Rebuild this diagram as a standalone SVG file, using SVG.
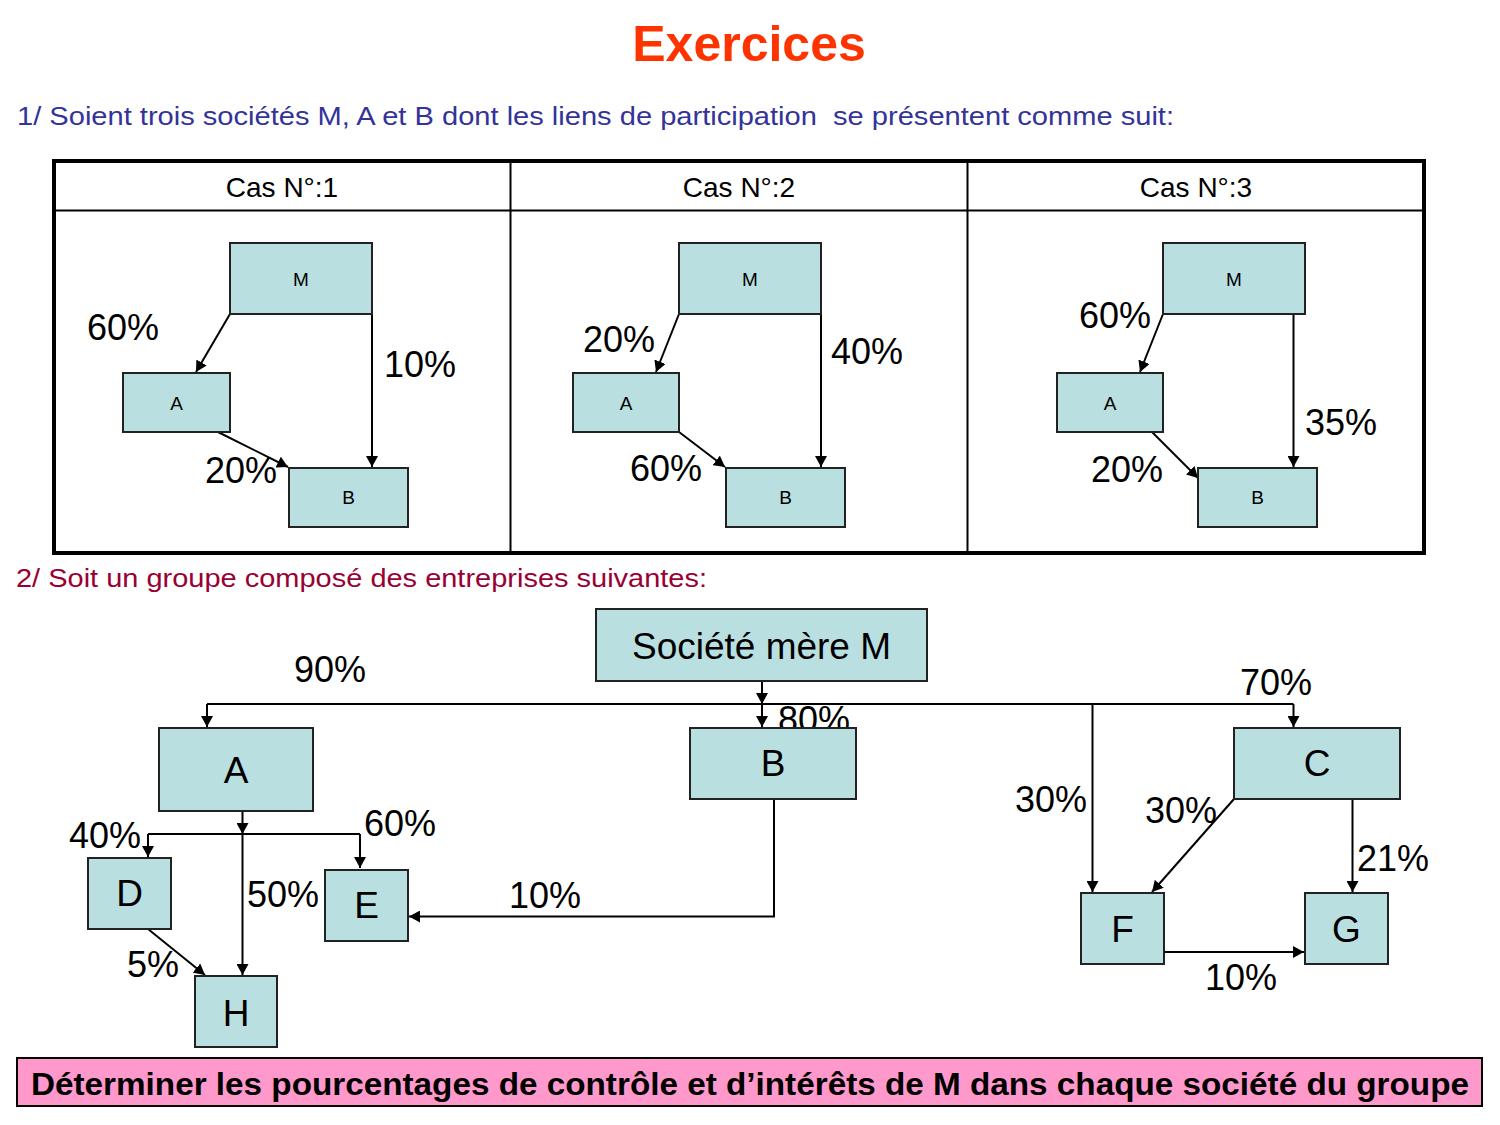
<svg xmlns="http://www.w3.org/2000/svg" width="1500" height="1125" viewBox="0 0 1500 1125">
<defs>
<marker id="arr" markerUnits="userSpaceOnUse" markerWidth="12" markerHeight="12" refX="11" refY="6" orient="auto">
<path d="M0,0 L11,6 L0,12 z" fill="#000"/>
</marker>
<style>
.node rect{fill:#B9DFE1;stroke:#222;stroke-width:2}
.t{font-family:"Liberation Sans",Arial,sans-serif;fill:#000}
.sm{font-size:19px;text-anchor:middle}
.bg{font-size:37px;text-anchor:middle}
.pc{font-size:36px}
.hd{font-size:28px;text-anchor:middle}
.conn line,.conn polyline{stroke:#000;stroke-width:2;fill:none}
.a{marker-end:url(#arr)}
</style>
</defs>
<rect width="1500" height="1125" fill="#fff"/>
<text class="t" x="749" y="61" font-size="50" font-weight="bold" text-anchor="middle" fill="#FF3300" style="fill:#FF3300">Exercices</text>
<text class="t" x="17" y="125" font-size="26" style="fill:#333399" textLength="1157" lengthAdjust="spacingAndGlyphs" xml:space="preserve">1/ Soient trois sociétés M, A et B dont les liens de participation  se présentent comme suit:</text>
<g id="table">
<rect x="54" y="161" width="1370" height="392" fill="none" stroke="#000" stroke-width="4"/>
<line x1="54" y1="210.5" x2="1424" y2="210.5" stroke="#000" stroke-width="2"/>
<line x1="510.5" y1="161" x2="510.5" y2="553" stroke="#000" stroke-width="2"/>
<line x1="967.5" y1="161" x2="967.5" y2="553" stroke="#000" stroke-width="2"/>
<text class="t hd" x="282" y="197">Cas N°:1</text>
<text class="t hd" x="739" y="197">Cas N°:2</text>
<text class="t hd" x="1196" y="197">Cas N°:3</text>
</g>
<g id="connectors" class="conn">
<line class="a" x1="230" y1="314" x2="196" y2="372"/>
<line class="a" x1="372" y1="314" x2="372" y2="467"/>
<line class="a" x1="218" y1="432" x2="288" y2="467"/>
<line class="a" x1="679" y1="314" x2="656" y2="372"/>
<line class="a" x1="821" y1="314" x2="821" y2="467"/>
<line class="a" x1="679" y1="432" x2="725" y2="467"/>
<line class="a" x1="1163" y1="314" x2="1140" y2="372"/>
<line class="a" x1="1293.5" y1="314" x2="1293.5" y2="467"/>
<line class="a" x1="1152" y1="432" x2="1198" y2="478"/>
<line class="a" x1="762" y1="681" x2="762" y2="704"/>
<line x1="207" y1="704" x2="1293.5" y2="704"/>
<line class="a" x1="207" y1="704" x2="207" y2="727"/>
<line class="a" x1="762" y1="704" x2="762" y2="727"/>
<line class="a" x1="1293.5" y1="704" x2="1293.5" y2="727"/>
<line class="a" x1="1092.5" y1="704" x2="1092.5" y2="892"/>
<polyline class="a" points="774,799 774,916.5 409,916.5"/>
<line class="a" x1="242.5" y1="811" x2="242.5" y2="834"/>
<line x1="148" y1="834" x2="360" y2="834"/>
<line class="a" x1="148" y1="834" x2="148" y2="857"/>
<line class="a" x1="360" y1="834" x2="360" y2="868"/>
<line class="a" x1="242.5" y1="834" x2="242.5" y2="975"/>
<line class="a" x1="148" y1="929" x2="205" y2="975"/>
<line class="a" x1="1234" y1="799" x2="1152" y2="892"/>
<line class="a" x1="1352.5" y1="799" x2="1352.5" y2="892"/>
<line class="a" x1="1164" y1="952" x2="1304" y2="952"/>
</g>
<g id="labels">
<text class="t pc" x="87" y="340">60%</text>
<text class="t pc" x="384" y="377">10%</text>
<text class="t pc" x="205" y="483">20%</text>
<text class="t pc" x="583" y="352">20%</text>
<text class="t pc" x="831" y="364">40%</text>
<text class="t pc" x="630" y="481">60%</text>
<text class="t pc" x="1079" y="328">60%</text>
<text class="t pc" x="1305" y="435">35%</text>
<text class="t pc" x="1091" y="482">20%</text>
<text class="t pc" x="294" y="682">90%</text>
<text class="t pc" x="778" y="732">80%</text>
<text class="t pc" x="1240" y="695">70%</text>
<text class="t pc" x="1015" y="812">30%</text>
<text class="t pc" x="1145" y="823">30%</text>
<text class="t pc" x="1357" y="871">21%</text>
<text class="t pc" x="1205" y="990">10%</text>
<text class="t pc" x="509" y="908">10%</text>
<text class="t pc" x="69" y="848">40%</text>
<text class="t pc" x="364" y="836">60%</text>
<text class="t pc" x="247" y="907">50%</text>
<text class="t pc" x="127" y="977">5%</text>
</g>
<g id="c1M" class="node"><rect x="230" y="243" width="142" height="71"/><text class="t sm" x="301" y="286">M</text></g>
<g id="c1A" class="node"><rect x="123" y="373" width="107" height="59"/><text class="t sm" x="176.5" y="410">A</text></g>
<g id="c1B" class="node"><rect x="289" y="468" width="119" height="59"/><text class="t sm" x="348.5" y="504">B</text></g>
<g id="c2M" class="node"><rect x="679" y="243" width="142" height="71"/><text class="t sm" x="750" y="286">M</text></g>
<g id="c2A" class="node"><rect x="573" y="373" width="106" height="59"/><text class="t sm" x="626" y="410">A</text></g>
<g id="c2B" class="node"><rect x="726" y="468" width="119" height="59"/><text class="t sm" x="785.5" y="504">B</text></g>
<g id="c3M" class="node"><rect x="1163" y="243" width="142" height="71"/><text class="t sm" x="1234" y="286">M</text></g>
<g id="c3A" class="node"><rect x="1057" y="373" width="106" height="59"/><text class="t sm" x="1110" y="410">A</text></g>
<g id="c3B" class="node"><rect x="1198" y="468" width="119" height="59"/><text class="t sm" x="1257.5" y="504">B</text></g>
<text class="t" x="16" y="587" font-size="26" style="fill:#990033" textLength="691" lengthAdjust="spacingAndGlyphs">2/ Soit un groupe composé des entreprises suivantes:</text>
<g id="M" class="node"><rect x="596" y="609" width="331" height="72"/><text class="t bg" x="761.5" y="659">Société mère M</text></g>
<g id="A" class="node"><rect x="159" y="728" width="154" height="83"/><text class="t bg" x="236" y="783">A</text></g>
<g id="B" class="node"><rect x="690" y="728" width="166" height="71"/><text class="t bg" x="773" y="776">B</text></g>
<g id="C" class="node"><rect x="1234" y="728" width="166" height="71"/><text class="t bg" x="1317" y="776">C</text></g>
<g id="D" class="node"><rect x="88" y="858" width="83" height="71"/><text class="t bg" x="129.5" y="906">D</text></g>
<g id="E" class="node"><rect x="325" y="870" width="83" height="71"/><text class="t bg" x="366.5" y="918">E</text></g>
<g id="H" class="node"><rect x="195" y="976" width="82" height="71"/><text class="t bg" x="236" y="1026">H</text></g>
<g id="F" class="node"><rect x="1081" y="893" width="83" height="71"/><text class="t bg" x="1122.5" y="942">F</text></g>
<g id="G" class="node"><rect x="1305" y="893" width="83" height="71"/><text class="t bg" x="1346.5" y="942">G</text></g>
<g id="task">
<rect x="17" y="1058" width="1465" height="48" fill="#FF99CC" stroke="#000" stroke-width="2"/>
<text class="t" x="31" y="1095" font-size="31" font-weight="bold" textLength="1438" lengthAdjust="spacingAndGlyphs">Déterminer les pourcentages de contrôle et d’intérêts de M dans chaque société du groupe</text>
</g>
</svg>
